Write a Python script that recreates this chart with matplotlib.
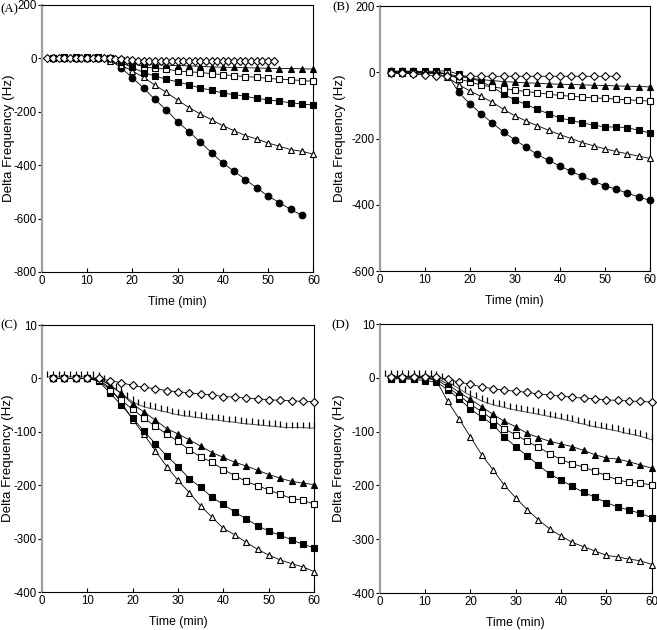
import numpy as np
import matplotlib
matplotlib.use('Agg')
import matplotlib.pyplot as plt

plt.rcParams['font.family'] = 'Liberation Sans'

# ---- time grids (min) ----
T25 = [2.5 * i for i in range(1, 25)]          # 2.5 .. 60
T125 = [1.25 * i for i in range(1, 49)]        # 1.25 .. 60

# ---- panel A ----
A_circle_t = T25[:23]
A_circle = [0, 0, 0, 0, 0, -5, -35, -72, -111, -154, -193, -237, -274, -313, -353,
            -392, -423, -454, -485, -516, -540, -566, -588]
A_otri = [0, 0, 0, 0, 0, -10, -25, -47, -71, -100, -127, -156, -184, -208, -230,
          -252, -271, -289, -302, -317, -329, -342, -348, -359]
A_fsq = [3, 5, 5, 5, 5, 0, -15, -34, -53, -66, -78, -88, -99, -111, -119,
         -130, -136, -142, -150, -155, -161, -166, -171, -175]
A_osq = [0, 0, 0, 0, 0, 0, -5, -15, -32, -37, -40, -47, -50, -53, -57,
         -61, -65, -68, -71, -75, -78, -80, -83, -86]
A_ftri = [0, 0, 0, 0, 0, 0, -5, -15, -20, -23, -25, -27, -28, -30, -32,
          -33, -34, -35, -36, -37, -38, -38, -39, -40]
A_diam_t = T125[:41]
A_diam = [0, 2, 0, 2, 0, 2, 0, 2, 0, 2, 0, 0, -2, -4, -6, -7, -8, -8, -8, -8,
          -8, -8, -8, -8, -8, -8, -8, -8, -8, -8, -8, -8, -8, -8, -8, -8, -8, -8,
          -8, -8, -8]

# ---- panel B ----
B_circle = [3, 3, 3, 0, 0, -5, -60, -95, -125, -153, -180, -204, -226, -248, -266,
            -283, -299, -314, -329, -342, -353, -365, -376, -387]
B_otri = [0, 0, 0, 0, -3, -15, -37, -56, -73, -90, -112, -131, -147, -161, -175,
          -188, -200, -212, -222, -231, -239, -246, -253, -260]
B_fsq = [3, 3, 3, 3, 3, 5, -6, -16, -28, -44, -66, -83, -97, -112, -125,
         -138, -145, -153, -159, -165, -165, -167, -175, -183]
B_osq = [-3, -3, -3, -3, -3, -3, -20, -29, -39, -44, -49, -54, -58, -62, -66,
         -70, -72, -75, -77, -79, -81, -83, -85, -87]
B_ftri = [0, 0, 0, 0, 0, -5, -12, -18, -22, -25, -28, -30, -32, -33, -35,
          -36, -37, -38, -39, -40, -41, -42, -43, -44]
B_diam_t = T25[:21]
B_diam = [-3, -3, -5, -8, -10, -12, -12, -12, -12, -12, -12, -12, -12, -12, -12,
          -12, -12, -12, -12, -12, -12]

# ---- panel C ----
C_diam = [0, 0, 0, 0, 0, -4, -8, -13, -17, -19, -23, -25, -27, -29, -31,
          -34, -35, -37, -38, -40, -41, -42, -43, -44]
C_tick = [3, 3, 3, 3, 3, 3, 3, 3, 2, 0, -5, -12, -20, -28, -36, -44, -49, -53,
          -56, -58, -61, -63, -66, -68, -70, -71, -73, -74, -76, -77, -78, -80,
          -81, -82, -84, -85, -86, -87, -88, -89, -90, -91, -92, -92, -92, -92,
          -93, -93]
C_ftri = [0, 0, 0, 0, 0, -13, -28, -48, -63, -78, -94, -104, -115, -127, -139,
          -148, -157, -164, -172, -180, -187, -193, -196, -199]
C_osq = [0, 0, 0, 0, -3, -21, -41, -58, -74, -90, -104, -118, -134, -147, -157,
         -171, -182, -193, -201, -209, -217, -225, -228, -236]
C_fsq = [0, 0, 0, 0, -5, -27, -50, -74, -99, -122, -145, -165, -188, -204, -223,
         -236, -250, -263, -276, -286, -294, -302, -311, -317]
C_otri = [0, 0, 0, 0, -2, -18, -45, -77, -105, -135, -165, -191, -214, -239, -260,
          -281, -293, -307, -320, -331, -340, -347, -353, -362]

# ---- panel D ----
D_diam = [2, 2, 2, 2, 2, -3, -8, -12, -17, -20, -23, -25, -27, -30, -32,
          -34, -36, -38, -39, -41, -42, -43, -44, -45]
D_tick = [3, 3, 3, 3, 3, 3, 3, 3, 3, 2, -2, -7, -14, -20, -27, -33, -38, -43,
          -47, -50, -53, -55, -58, -60, -62, -64, -66, -68, -70, -72, -74, -76,
          -79, -81, -84, -86, -89, -91, -93, -95, -97, -99, -102, -104, -106,
          -109, -112, -115]
D_ftri = [0, 0, 0, 0, 0, -12, -27, -40, -54, -68, -81, -91, -103, -111, -118,
          -123, -128, -135, -143, -149, -151, -156, -162, -168]
D_osq = [0, 0, 0, 0, -3, -17, -33, -49, -63, -78, -95, -106, -118, -129, -141,
         -152, -160, -166, -174, -182, -190, -194, -196, -199]
D_fsq = [-2, -2, -3, -5, -8, -22, -39, -58, -73, -87, -110, -128, -145, -162, -179,
         -190, -202, -213, -222, -232, -240, -246, -252, -260]
D_otri = [0, 0, 0, 0, -5, -44, -76, -110, -143, -171, -200, -223, -245, -264, -281,
          -294, -306, -314, -322, -330, -333, -337, -340, -347]

MS = 4.8


def series(ax, t, y, marker, filled, ms=MS):
    ax.plot(t, y, color='black', lw=0.6, marker=marker, ms=ms,
            mfc='black' if filled else 'white', mec='black', mew=0.8,
            clip_on=False, zorder=3)


def ticks_series(ax, t, y):
    ax.plot(t, y, color='#555555', lw=0.7, marker=2, ms=4.5, mew=0.9,
            mec='black', clip_on=False, zorder=2)


def style_axes(ax, ylim, yticks, ylabels, label, label_x):
    ax.set_xlim(0, 60)
    ax.set_ylim(*ylim)
    ax.set_xticks(range(0, 61, 10))
    ax.set_yticks(yticks)
    ax.set_yticklabels(ylabels)
    for s in ['top', 'right', 'bottom']:
        ax.spines[s].set_color('black')
        ax.spines[s].set_linewidth(0.8)
    ax.spines['left'].set_color('#a0a0a0')
    ax.spines['left'].set_linewidth(1.6)
    ax.tick_params(axis='y', direction='out', length=3, width=0.8,
                   color='black', labelsize=8.3, pad=0.5)
    ax.tick_params(axis='x', direction='in', length=3, width=0.8,
                   labelsize=8.3, pad=2)
    ax.set_xlabel('Time (min)', fontsize=8.8)
    ax.set_ylabel('Delta Frequency (Hz)', fontsize=9.6)
    ax.xaxis.set_label_coords(0.5, -0.09)
    ax.yaxis.set_label_coords(label_x, 0.5)
    ax.figure.text(*label, family='Liberation Serif', fontsize=9.3,
                   va='center', ha='left')


fig = plt.figure(figsize=(6.57, 6.30), dpi=100)
axA = fig.add_axes([0.0635, 0.5683, 0.4135, 0.4238])
axB = fig.add_axes([0.578, 0.5698, 0.411, 0.4206])
axC = fig.add_axes([0.0635, 0.0603, 0.4150, 0.4238])
axD = fig.add_axes([0.578, 0.0587, 0.4140, 0.4270])

# A
series(axA, A_circle_t, A_circle, 'o', True)
series(axA, T25, A_otri, '^', False)
series(axA, T25, A_fsq, 's', True, ms=4.4)
series(axA, T25, A_osq, 's', False, ms=4.4)
series(axA, T25, A_ftri, '^', True)
series(axA, A_diam_t, A_diam, 'D', False, ms=4.0)
style_axes(axA, (-800, 200), range(-800, 201, 200),
           ['-800', '-600', '-400', '-200', '0', '200'],
           (0.0, 0.986, '(A)'), -0.10)

# B
series(axB, T25, B_circle, 'o', True)
series(axB, T25, B_otri, '^', False)
series(axB, T25, B_fsq, 's', True, ms=4.4)
series(axB, T25, B_osq, 's', False, ms=4.4)
series(axB, T25, B_ftri, '^', True)
series(axB, B_diam_t, B_diam, 'D', False, ms=4.0)
style_axes(axB, (-600, 200), range(-600, 201, 200),
           ['-600', '-400', '-200', '0', '200'],
           (0.506, 0.988, '(B)'), -0.126)

# C
ticks_series(axC, T125, C_tick)
series(axC, T25, C_otri, '^', False)
series(axC, T25, C_fsq, 's', True, ms=4.4)
series(axC, T25, C_osq, 's', False, ms=4.4)
series(axC, T25, C_ftri, '^', True)
series(axC, T25, C_diam, 'D', False, ms=4.0)
style_axes(axC, (-400, 100), range(-400, 101, 100),
           ['-400', '-300', '-200', '-100', '0', '10'],
           (0.0, 0.484, '(C)'), -0.10)

# D
ticks_series(axD, T125, D_tick)
series(axD, T25, D_otri, '^', False)
series(axD, T25, D_fsq, 's', True, ms=4.4)
series(axD, T25, D_osq, 's', False, ms=4.4)
series(axD, T25, D_ftri, '^', True)
series(axD, T25, D_diam, 'D', False, ms=4.0)
style_axes(axD, (-400, 100), range(-400, 101, 100),
           ['-400', '-300', '-200', '-100', '0', '10'],
           (0.504, 0.484, '(D)'), -0.126)

fig.savefig('out.png', dpi=100)
